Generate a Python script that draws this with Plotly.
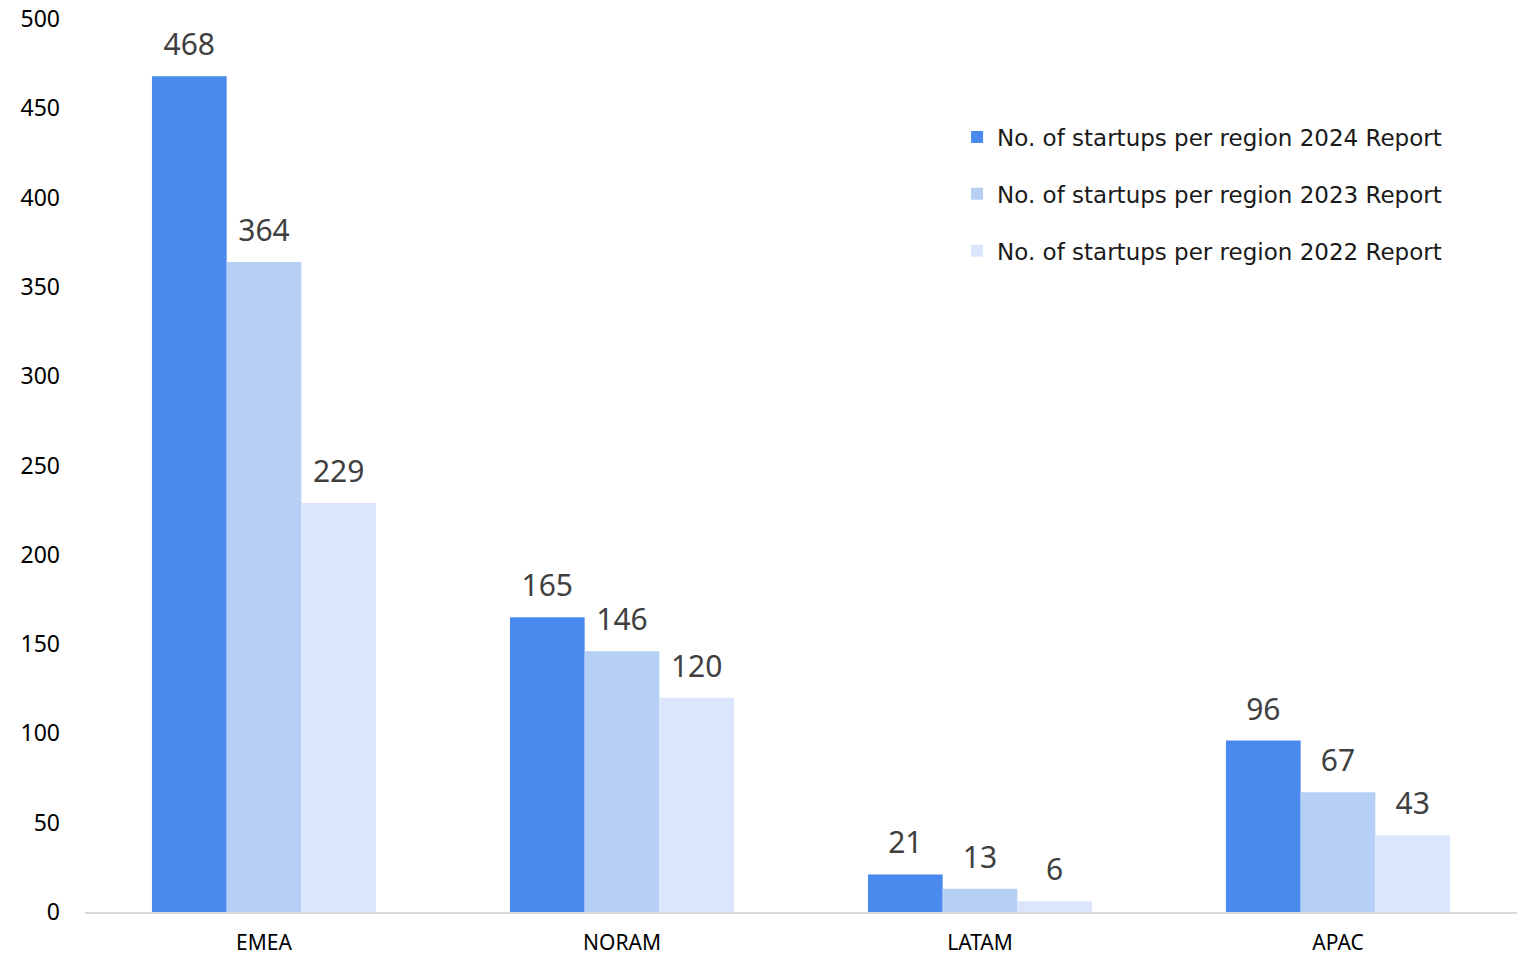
import plotly.graph_objects as go

regions = ["EMEA", "NORAM", "LATAM", "APAC"]
series_names = [
    "No. of startups per region 2024 Report",
    "No. of startups per region 2023 Report",
    "No. of startups per region 2022 Report",
]
values_2024 = [468, 165, 21, 96]
values_2023 = [364, 146, 13, 67]
values_2022 = [229, 120, 6, 43]
colors = ["#4a89ee", "#b5cff5", "#dbe6fc"]
y_ticks = [0, 50, 100, 150, 200, 250, 300, 350, 400, 450, 500]

all_values = [values_2024, values_2023, values_2022]
GAP = 0.374

fig = go.Figure()
for i, (name, vals, col) in enumerate(zip(series_names, all_values, colors)):
    fig.add_trace(go.Bar(
        x=regions, y=vals, name=name, marker=dict(color=col, line=dict(width=0)),
        legendgroup=f"g{i}", offsetgroup=f"o{i}", alignmentgroup="a",
    ))
for i, vals in enumerate(all_values):
    fig.add_trace(go.Scatter(
        x=regions, y=vals, mode="markers+text", text=[str(v) for v in vals],
        textposition="top center", showlegend=False, hoverinfo="skip",
        marker=dict(size=20, opacity=0), cliponaxis=False,
        textfont=dict(family="Noto Sans", size=30, color="#404040"),
    ))

fig.update_layout(
    width=1518, height=957,
    margin=dict(l=85, r=1, t=19, b=45, autoexpand=False),
    paper_bgcolor="white", plot_bgcolor="white",
    barmode="group", bargap=GAP, bargroupgap=0,
    scattermode="group", scattergap=GAP,
    font=dict(family="Noto Sans", color="#000000"),
    legend=dict(
        x=0.609, y=0.892, xanchor="left", yanchor="top",
        font=dict(family="DejaVu Sans", size=23, color="#1a1a1a"),
        tracegroupgap=24, bgcolor="rgba(0,0,0,0)",
    ),
    showlegend=True,
)
fig.update_xaxes(
    showline=True, linecolor="#d9d9d9", linewidth=2, showgrid=False,
    ticks="", ticklabelstandoff=11, automargin=False,
    tickfont=dict(family="Noto Sans", size=21, color="#000000"),
)
fig.update_yaxes(
    range=[0, 500], tickvals=y_ticks, showgrid=False, zeroline=False,
    showline=False, ticks="", ticklabelstandoff=24, automargin=False,
    tickfont=dict(family="Noto Sans", size=23, color="#000000"),
)

fig.write_html("out.html")
